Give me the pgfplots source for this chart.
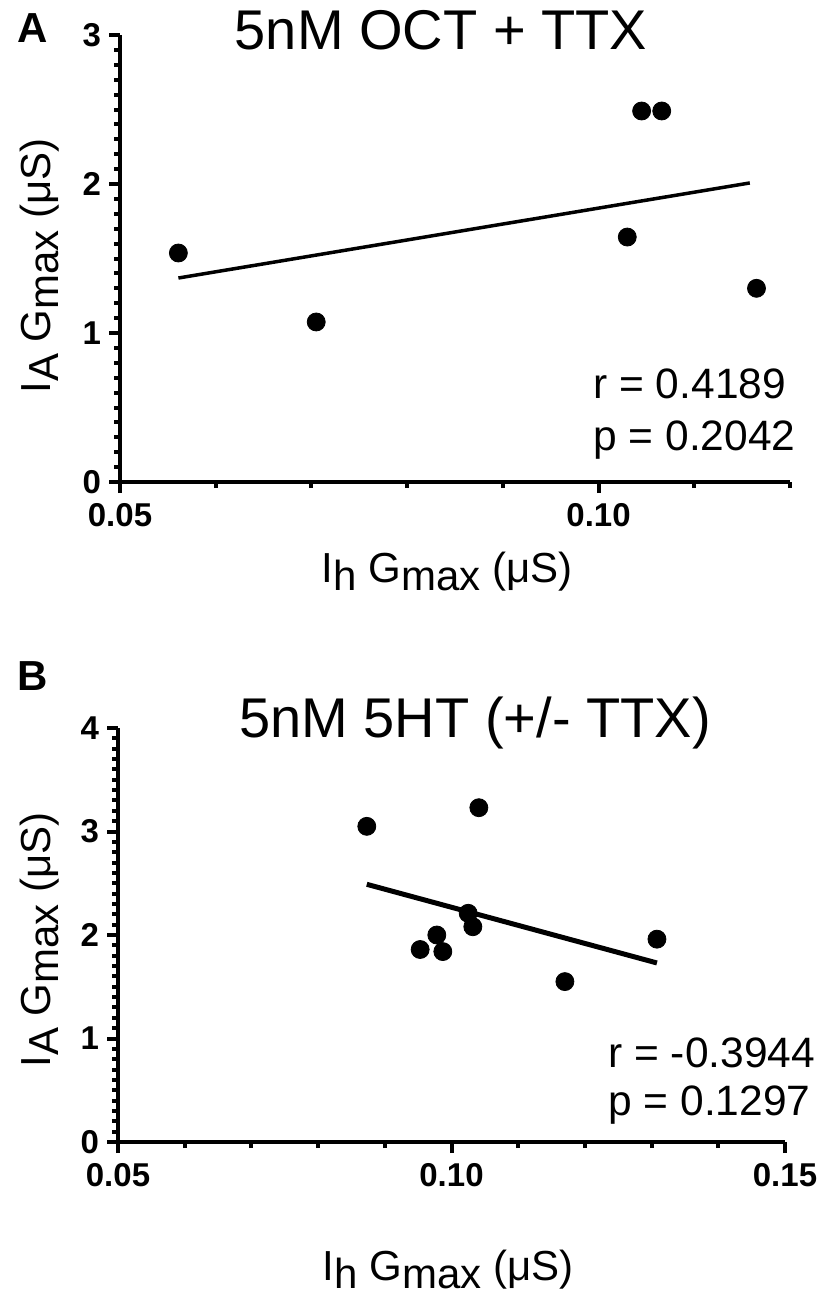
\documentclass[border=0pt]{standalone}
\usepackage{pgfplots}
\pgfplotsset{compat=1.18}
\usepackage{fontspec}
\setmainfont{Liberation Sans}
\newcommand{\lo}[1]{\raisebox{-0.2em}{#1}}
\pgfplotsset{
  myax/.style={
    scale only axis,
    axis lines*=left,
    anchor=south west,
    clip=false,
    tick align=outside,
    major tick length=5.5pt,
    minor tick length=3pt,
    tick style={line width=2pt,black},
    axis line style={line width=2pt,black},
    tick label style={font=\fontsize{16.5}{18}\selectfont\bfseries},
    /pgf/number format/assume math mode=true,
    xticklabel style={yshift=-1.5pt},
    yticklabel style={xshift=-0.5pt},
  }
}
\begin{document}
\begin{tikzpicture}
\path[use as bounding box] (0,0) rectangle (413pt,-650pt);
% Panel A
\begin{axis}[myax,
  at={(60pt,-241pt)}, width=335pt, height=223.5pt,
  xmin=0.05, xmax=0.12, ymin=0, ymax=3,
  xtick={0.05,0.10}, xticklabels={0.05,0.10},
  minor xtick={0.06,0.07,0.08,0.09,0.11,0.12},
  ytick={0,1,2,3}, minor y tick num=9,
]
\addplot[only marks, mark=*, mark size=4.5pt, black] coordinates {
(0.0561,1.537) (0.0705,1.074) (0.1030,1.644) (0.1045,2.49) (0.1066,2.49) (0.1165,1.30)};
\addplot[line width=1.75pt, black] coordinates {(0.0561,1.369) (0.1158,2.007)};
\end{axis}
% Panel B
\begin{axis}[myax,
  at={(59pt,-571pt)}, width=333.5pt, height=207pt,
  xmin=0.05, xmax=0.15, ymin=0, ymax=4,
  xtick={0.05,0.10,0.15}, xticklabels={0.05,0.10,0.15},
  minor x tick num=4,
  ytick={0,1,2,3,4}, minor y tick num=9,
]
\addplot[only marks, mark=*, mark size=4.5pt, black] coordinates {
(0.0873,3.05) (0.1041,3.23) (0.1025,2.21) (0.1032,2.08) (0.0978,2.0) (0.0953,1.86) (0.0987,1.84) (0.1170,1.55) (0.1308,1.96)};
\addplot[line width=2.5pt, black] coordinates {(0.0873,2.49) (0.1308,1.73)};
\end{axis}
% texts
\node[anchor=base west, inner sep=0pt, font=\fontsize{21}{24}\selectfont\bfseries] at (8.5pt,-21.5pt) {A};
\node[anchor=base west, inner sep=0pt, font=\fontsize{21}{24}\selectfont\bfseries] at (8.5pt,-345pt) {B};
\node[anchor=base, inner sep=0pt, font=\fontsize{28}{32}\selectfont] at (220.5pt,-25pt) {5nM OCT + TTX};
\node[anchor=base, inner sep=0pt, font=\fontsize{28}{32}\selectfont] at (237.5pt,-368.5pt) {5nM 5HT (+/- TTX)};
\node[anchor=base, inner sep=0pt, font=\fontsize{21}{24}\selectfont] at (223.5pt,-291pt) {I\lo{h} G\lo{max} (μS)};
\node[anchor=base, inner sep=0pt, font=\fontsize{21}{24}\selectfont] at (224pt,-640pt) {I\lo{h} G\lo{max} (μS)};
\node[anchor=base, rotate=90, inner sep=0pt, font=\fontsize{21}{24}\selectfont] at (25pt,-133pt) {I\lo{A} G\lo{max} (μS)};
\node[anchor=base, rotate=90, inner sep=0pt, font=\fontsize{21}{24}\selectfont] at (25pt,-470pt) {I\lo{A} G\lo{max} (μS)};
\node[anchor=base west, inner sep=0pt, font=\fontsize{21.25}{24}\selectfont] at (296.5pt,-199pt) {r = 0.4189};
\node[anchor=base west, inner sep=0pt, font=\fontsize{21.25}{24}\selectfont] at (296.5pt,-225pt) {p = 0.2042};
\node[anchor=base west, inner sep=0pt, font=\fontsize{21.25}{24}\selectfont] at (304pt,-533.5pt) {r = -0.3944};
\node[anchor=base west, inner sep=0pt, font=\fontsize{21.25}{24}\selectfont] at (304pt,-557.5pt) {p = 0.1297};
\end{tikzpicture}
\end{document}
